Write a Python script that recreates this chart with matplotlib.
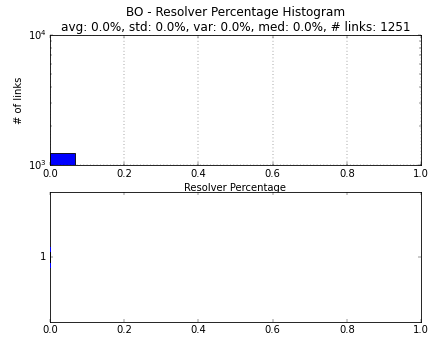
import matplotlib
matplotlib.use("Agg")
import matplotlib.pyplot as plt

# histogram data (only the first bin is populated)
bin_left = [0.0]
bin_width = 1.0 / 15
counts = [1251]

# box plot summary of the resolver percentages
box_stats = [{'med': 0.0, 'q1': 0.0, 'q3': 0.0,
              'whislo': 0.0, 'whishi': 0.0, 'fliers': [], 'label': '1'}]

title = ("BO - Resolver Percentage Histogram\n"
         "avg: 0.0%, std: 0.0%, var: 0.0%, med: 0.0%, # links: 1251")

plt.style.use('classic')
plt.rcParams['figure.facecolor'] = 'white'
plt.rcParams['savefig.facecolor'] = 'white'

DPI = 60
fig = plt.figure(figsize=(430 / DPI, 338 / DPI), dpi=DPI)
fig.subplots_adjust(left=50 / 430, right=421 / 430,
                    top=1 - 35 / 338, bottom=1 - 322 / 338, hspace=0.2)

# top: histogram, log y
ax1 = fig.add_subplot(211)
ax1.bar(bin_left, counts, width=bin_width, align='edge', color='b',
        edgecolor='k', log=True)
ax1.set_yscale('log')
ax1.set_ylim(1e3, 1e4)
ax1.set_xlim(0, 1)
ax1.grid(True)
ax1.set_title(title)
ax1.set_xlabel('Resolver Percentage')
ax1.set_ylabel('# of links')

# bottom: horizontal box plot, drawn above the spine like the original
ax2 = fig.add_subplot(212)
parts = ax2.bxp(box_stats, orientation='horizontal', widths=0.15)
for key in ('boxes', 'whiskers', 'caps', 'medians'):
    for line in parts[key]:
        line.set_zorder(3)
        line.set_clip_on(False)
for line in parts['medians']:
    line.set_zorder(2)
ax2.set_xlim(0, 1)
ax2.set_ylim(0.5, 1.5)

fig.savefig('out.png', dpi=DPI)
